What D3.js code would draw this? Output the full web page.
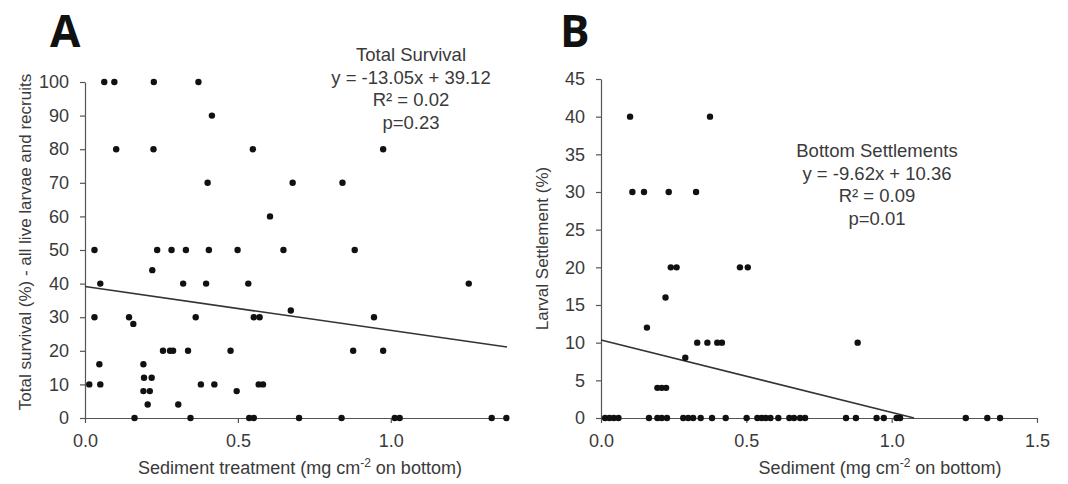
<!DOCTYPE html>
<html>
<head>
<meta charset="utf-8">
<script src="https://cdn.jsdelivr.net/npm/d3@7"></script>
<style>
  body { margin: 0; background: #fff; }
  svg { display: block; }
  .tick text { font-family: "Liberation Sans", Arial, sans-serif; font-size: 18px; fill: #3a3a3a; }
  .axis path, .axis line { stroke: #555; stroke-width: 1.2; }
</style>
</head>
<body>
<svg id="chart" width="1068" height="484"></svg>
<script>
// Panel A - total survival vs sediment treatment
const survivalSediment = [
  0.063, 0.096, 0.225, 0.371,
  0.415,
  0.102, 0.224, 0.549, 0.975,
  0.401, 0.679, 0.842,
  0.605,
  0.031, 0.236, 0.283, 0.330, 0.405, 0.499, 0.649, 0.882,
  0.220,
  0.050, 0.321, 0.396, 0.534, 1.255,
  0.673,
  0.031, 0.144, 0.362, 0.552, 0.571, 0.945,
  0.158,
  0.255, 0.278, 0.288, 0.337, 0.476, 0.877, 0.975,
  0.047, 0.191,
  0.193, 0.218,
  0.014, 0.050, 0.379, 0.423, 0.568, 0.582,
  0.191, 0.212, 0.496,
  0.205, 0.305,
  0.162, 0.345, 0.537, 0.552, 0.700, 0.839, 1.013, 1.029, 1.330, 1.378
];
const survivalPct = [
  100, 100, 100, 100,
  90,
  80, 80, 80, 80,
  70, 70, 70,
  60,
  50, 50, 50, 50, 50, 50, 50, 50,
  44,
  40, 40, 40, 40, 40,
  32,
  30, 30, 30, 30, 30, 30,
  28,
  20, 20, 20, 20, 20, 20, 20,
  16, 16,
  12, 12,
  10, 10, 10, 10, 10, 10,
  8, 8, 8,
  4, 4,
  0, 0, 0, 0, 0, 0, 0, 0, 0, 0
];

// Panel B - bottom settlement vs sediment
const settleSediment = [
  0.100, 0.375,
  0.108, 0.148, 0.233, 0.327,
  0.240, 0.260, 0.478, 0.505,
  0.222,
  0.158,
  0.331, 0.366, 0.400, 0.416, 0.883,
  0.290,
  0.194, 0.209, 0.224,
  0.014, 0.029, 0.044, 0.060, 0.165, 0.194, 0.209, 0.227, 0.283, 0.300,
  0.317, 0.343, 0.382, 0.429, 0.501, 0.538, 0.553, 0.567, 0.583, 0.610,
  0.648, 0.664, 0.685, 0.702, 0.843, 0.877, 0.948, 0.973, 1.017, 1.029,
  1.255, 1.329, 1.373
];
const settlePct = [
  40, 40,
  30, 30, 30, 30,
  20, 20, 20, 20,
  16,
  12,
  10, 10, 10, 10, 10,
  8,
  4, 4, 4,
  0, 0, 0, 0, 0, 0, 0, 0, 0, 0,
  0, 0, 0, 0, 0, 0, 0, 0, 0, 0,
  0, 0, 0, 0, 0, 0, 0, 0, 0, 0,
  0, 0, 0
];

// fits and labels
const fitSlope = [-13.05, -9.62];
const fitIntercept = [39.12, 10.36];
const statTitles = ["Total Survival", "Bottom Settlements"];
const statLines = [
  ["y = -13.05x + 39.12", "R² = 0.02", "p=0.23"],
  ["y = -9.62x + 10.36", "R² = 0.09", "p=0.01"]
];
const panelLetters = ["A", "B"];
const yTitles = ["Total survival (%) - all live larvae and recruits", "Larval Settlement (%)"];
const xTitles = ["Sediment treatment (mg cm", "Sediment (mg cm"];
const yTicksA = d3.range(0, 101, 10);
const yTicksB = d3.range(0, 46, 5);
const xTicksA = [0, 0.5, 1.0];
const xTicksB = [0, 0.5, 1.0, 1.5];

const svg = d3.select("#chart");

const panels = [
  {
    xs: survivalSediment, ys: survivalPct,
    x: d3.scaleLinear().domain([0, 1.38]).range([85, 507]),
    y: d3.scaleLinear().domain([0, 100]).range([418, 82]),
    xTicks: xTicksA, yTicks: yTicksA,
    letterX: 50, yTitleX: 25, xTitleX: 300, statX: 411, statY: 61
  },
  {
    xs: settleSediment, ys: settlePct,
    x: d3.scaleLinear().domain([0, 1.5]).range([601, 1037]),
    y: d3.scaleLinear().domain([0, 45]).range([418, 79]),
    xTicks: xTicksB, yTicks: yTicksB,
    letterX: 560, yTitleX: 542, xTitleX: 880, statX: 877, statY: 157
  }
];

panels.forEach(function (p, i) {
  const g = svg.append("g");

  // axes
  g.append("g")
    .attr("class", "axis")
    .attr("transform", "translate(" + p.x.range()[0] + ",0)")
    .call(d3.axisLeft(p.y).tickValues(p.yTicks).tickSize(5).tickSizeOuter(0).tickPadding(11));

  g.append("g")
    .attr("class", "axis")
    .attr("transform", "translate(0," + p.y.range()[0] + ")")
    .call(d3.axisBottom(p.x).tickValues(p.xTicks).tickFormat(d3.format(".1f"))
      .tickSize(5).tickSizeOuter(0).tickPadding(11));

  // regression line, stopped where it hits zero
  const m = fitSlope[i], b = fitIntercept[i];
  const xEnd = Math.min(p.x.domain()[1], b / -m);
  g.append("line")
    .attr("x1", p.x(0)).attr("y1", p.y(b))
    .attr("x2", p.x(xEnd)).attr("y2", p.y(m * xEnd + b))
    .attr("stroke", "#333")
    .attr("stroke-width", 1.6);

  // points
  g.append("g")
    .selectAll("circle")
    .data(d3.range(p.xs.length))
    .join("circle")
    .attr("cx", j => p.x(p.xs[j]))
    .attr("cy", j => p.y(p.ys[j]))
    .attr("r", 3.2)
    .attr("fill", "#111");

  // panel letter
  g.append("text")
    .attr("x", p.letterX).attr("y", 47)
    .attr("font-family", "'Open Sans', sans-serif")
    .attr("font-weight", 700)
    .attr("font-size", 44)
    .attr("fill", "#111")
    .text(panelLetters[i]);

  // y title
  g.append("text")
    .attr("transform", "translate(" + p.yTitleX + "," + ((p.y.range()[0] + p.y.range()[1]) / 2 + (i ? 0 : -8)) + ") rotate(-90)")
    .attr("text-anchor", "middle")
    .attr("dy", "0.35em")
    .attr("font-family", "'Liberation Sans', Arial, sans-serif")
    .attr("font-size", 17)
    .attr("fill", "#3a3a3a")
    .text(yTitles[i]);

  // x title with superscript
  const xt = g.append("text")
    .attr("x", p.xTitleX).attr("y", 474)
    .attr("text-anchor", "middle")
    .attr("font-family", "'Liberation Sans', Arial, sans-serif")
    .attr("font-size", 18)
    .attr("fill", "#3a3a3a");
  xt.append("tspan").text(xTitles[i]);
  xt.append("tspan").attr("font-size", 12).attr("dy", -7).text("-2");
  xt.append("tspan").attr("dy", 7).text(" on bottom)");

  // stats block
  const st = g.append("text")
    .attr("text-anchor", "middle")
    .attr("font-family", "'Liberation Sans', Arial, sans-serif")
    .attr("font-size", 18.5)
    .attr("fill", "#3a3a3a");
  [statTitles[i]].concat(statLines[i]).forEach(function (s, k) {
    st.append("tspan")
      .attr("x", p.statX)
      .attr("y", p.statY + k * 22.5)
      .text(s);
  });
});
</script>
</body>
</html>
